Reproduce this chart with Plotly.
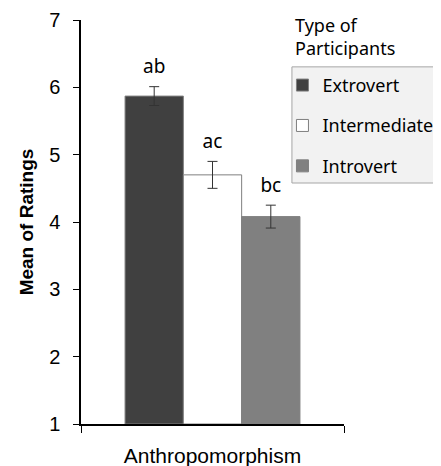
import plotly.graph_objects as go

categories = ["Anthropomorphism"]
groups = ["Extrovert", "Intermediate", "Introvert"]
means = [5.87, 4.70, 4.08]
errors = [0.14, 0.20, 0.17]
letters = ["ab", "ac", "bc"]
colors = ["#404040", "#ffffff", "#808080"]
y_ticks = [1, 2, 3, 4, 5, 6, 7]

fig = go.Figure()
for g, m, e, c in zip(groups, means, errors, colors):
    fig.add_trace(go.Bar(
        name=g, x=categories, y=[m - 1], base=1, marker_color=c,
        marker_line=dict(color="#7f7f7f", width=1),
        error_y=dict(type="data", array=[e], color="#333333", thickness=1, width=5),
        offsetgroup=g, legendgroup=g,
    ))
for g, m, e, lab in zip(groups, means, errors, letters):
    fig.add_trace(go.Scatter(
        x=categories, y=[m + e], mode="markers+text", text=[lab], textposition="top center",
        marker=dict(size=12, color="rgba(0,0,0,0)"),
        textfont=dict(family="Noto Sans", size=19, color="#000000"),
        offsetgroup=g, showlegend=False, cliponaxis=False, hoverinfo="skip",
    ))

# the page body adds an 8px offset, so the figure is 8px smaller and shifted up-left
fig.update_layout(
    width=433, height=458,
    margin=dict(l=73, r=97, t=12, b=42, autoexpand=False),
    paper_bgcolor="white", plot_bgcolor="white",
    barmode="group", bargap=0.335, bargroupgap=0,
    scattermode="group", scattergap=0.335,
    showlegend=True,
    legend=dict(x=0.766, xanchor="left", y=0.884, yanchor="top",
                bgcolor="rgba(0,0,0,0)", borderwidth=0,
                font=dict(family="Noto Sans", size=18, color="#000000"),
                tracegroupgap=14, itemwidth=30),
    xaxis=dict(showline=True, linecolor="#000000", linewidth=1.5,
               ticks="outside", tickson="boundaries", ticklen=7, tickcolor="#000000",
               tickfont=dict(family="Liberation Sans", size=21, color="#000000"),
               ticklabelstandoff=12),
    yaxis=dict(range=[1, 7], tickvals=y_ticks, showline=True, linecolor="#000000",
               linewidth=1.5, ticks="outside", ticklen=6, tickcolor="#000000",
               showgrid=False, zeroline=False,
               tickfont=dict(family="Liberation Sans", size=20, color="#000000"),
               ticklabelstandoff=9,
               title=dict(text="<b>Mean of Ratings</b>", standoff=10,
                          font=dict(family="Liberation Sans", size=19, color="#000000"))),
    shapes=[dict(type="rect", xref="paper", yref="paper", x0=0.802, x1=1.5,
                 y0=0.5965, y1=0.884, fillcolor="#f2f2f2",
                 line=dict(color="#a6a6a6", width=1), layer="above")],
)
fig.add_annotation(text="Type of<br>Participants", xref="paper", yref="paper",
                   x=0.802, xanchor="left", y=1.0, yanchor="top", showarrow=False, align="left",
                   xshift=1, yshift=9,
                   font=dict(family="Noto Sans", size=18, color="#000000"))
fig.write_html("out.html")
